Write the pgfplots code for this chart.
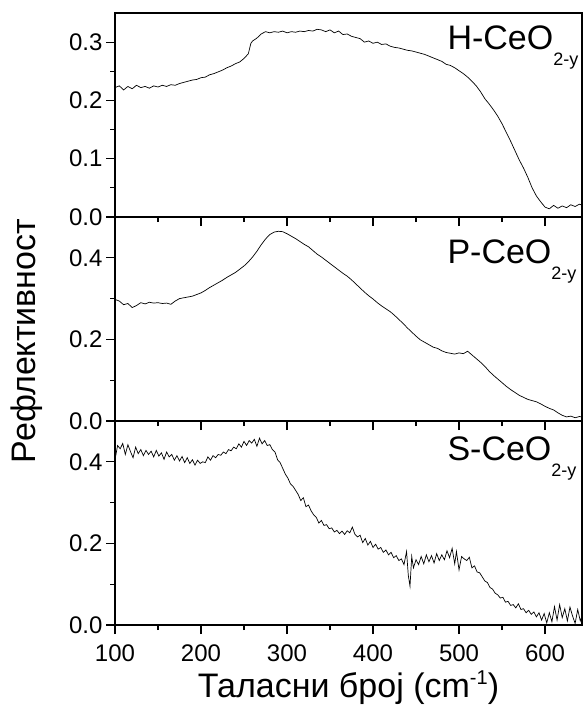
\documentclass[border=0pt]{standalone}
\usepackage{fontspec}
\setmainfont{Liberation Sans}
\usepackage{pgfplots}
\pgfplotsset{compat=1.18}
\pgfplotsset{
  panel/.style={
    width=467pt, height=204pt, scale only axis,
    xmin=100, xmax=643, ymin=0,
    xtick={100,200,...,600},
    minor x tick num=1,
    minor y tick num=1,
    tick align=outside,
    xtick pos=bottom, ytick pos=left,
    major tick length=9pt, minor tick length=5pt,
    tick label style={font=\fontsize{24}{28}\selectfont},
    /pgf/number format/assume math mode=true,
    yticklabel style={/pgf/number format/fixed, /pgf/number format/fixed zerofill,
      /pgf/number format/precision=1},
    xticklabel style={/pgf/number format/fixed, /pgf/number format/precision=0, yshift=-7pt},
    axis line style={line width=1.3pt},
    every tick/.style={line width=1.2pt, black},
  },
}
\tikzset{plab/.style={anchor=base west, font=\fontsize{34}{36}\selectfont}}
\newcommand{\sub}[1]{\raisebox{-16pt}{\fontsize{18}{18}\selectfont #1}}
\begin{document}
\begin{tikzpicture}
\begin{axis}[panel, name=top, ymax=0.35, ytick={0,0.1,0.2,0.3}, xticklabels={}]
\addplot[black, line width=0.7pt, mark=none] coordinates {
(100,0.222)(105,0.225)(110,0.218)(115,0.224)(120,0.220)(125,0.226)(130,0.222)(135,0.224)(140,0.221)(145,0.225)
(150,0.223)(155,0.226)(160,0.224)(165,0.227)(170,0.226)(175,0.229)(180,0.231)(185,0.233)(190,0.235)(195,0.236)
(200,0.239)(205,0.240)(210,0.244)(215,0.246)(220,0.249)(225,0.252)(230,0.256)(235,0.259)(240,0.263)(245,0.266)
(250,0.272)(255,0.280)(258,0.298)(260,0.302)(265,0.307)(270,0.314)(275,0.318)(280,0.316)(285,0.318)(290,0.317)
(295,0.319)(300,0.316)(305,0.318)(310,0.317)(315,0.319)(320,0.318)(325,0.320)(330,0.319)(335,0.322)(340,0.321)
(345,0.318)(350,0.321)(355,0.316)(360,0.319)(365,0.313)(370,0.314)(375,0.310)(380,0.308)(385,0.306)(390,0.300)
(395,0.302)(400,0.298)(405,0.300)(410,0.296)(415,0.297)(420,0.293)(425,0.291)(430,0.290)(435,0.288)(440,0.286)
(445,0.285)(450,0.283)(455,0.281)(460,0.279)(465,0.276)(470,0.273)(475,0.270)(480,0.267)(485,0.262)(490,0.260)
(495,0.256)(500,0.251)(505,0.246)(510,0.240)(515,0.233)(520,0.225)(525,0.215)(530,0.203)(535,0.194)(540,0.184)
(545,0.173)(550,0.160)(555,0.145)(560,0.130)(565,0.114)(570,0.098)(575,0.084)(580,0.068)(585,0.050)(590,0.036)
(595,0.026)(600,0.017)(605,0.014)(610,0.020)(615,0.015)(620,0.019)(625,0.016)(630,0.021)(635,0.018)(640,0.022)(645,0.019)
};
\node[plab, xshift=329pt, yshift=-37pt] at (rel axis cs:0,1) {H-CeO\sub{2-y}};
\end{axis}
\begin{axis}[panel, name=mid, at={(top.south west)}, anchor=north west, ymax=0.5, ytick={0,0.2,0.4}, xticklabels={}]
\addplot[black, line width=0.7pt, mark=none] coordinates {
(100,0.298)(105,0.294)(110,0.285)(115,0.288)(120,0.278)(125,0.283)(130,0.290)(135,0.287)(140,0.291)(145,0.289)
(150,0.290)(155,0.288)(160,0.289)(165,0.286)(170,0.294)(175,0.300)(180,0.302)(185,0.304)(190,0.306)(195,0.310)
(200,0.314)(205,0.320)(210,0.327)(215,0.333)(220,0.339)(225,0.345)(230,0.352)(235,0.358)(240,0.364)(245,0.372)
(250,0.380)(255,0.390)(260,0.402)(265,0.416)(270,0.432)(275,0.446)(280,0.457)(285,0.463)(290,0.465)(295,0.464)
(300,0.459)(305,0.453)(310,0.447)(315,0.440)(320,0.433)(325,0.427)(330,0.418)(335,0.409)(340,0.402)(345,0.394)
(350,0.386)(355,0.378)(360,0.370)(365,0.362)(370,0.355)(375,0.346)(380,0.336)(385,0.326)(390,0.316)(395,0.307)
(400,0.299)(405,0.290)(410,0.282)(415,0.275)(420,0.268)(425,0.259)(430,0.249)(435,0.239)(440,0.228)(445,0.218)
(450,0.208)(455,0.199)(460,0.193)(465,0.187)(470,0.181)(475,0.178)(480,0.172)(485,0.168)(490,0.166)(495,0.164)
(500,0.167)(505,0.165)(510,0.171)(515,0.162)(520,0.153)(525,0.144)(530,0.134)(535,0.122)(540,0.112)(545,0.103)
(550,0.094)(555,0.085)(560,0.077)(565,0.070)(570,0.063)(575,0.058)(580,0.053)(585,0.050)(590,0.047)(595,0.042)
(600,0.036)(605,0.031)(610,0.027)(615,0.020)(620,0.014)(625,0.010)(630,0.012)(635,0.008)(640,0.011)(645,0.009)
};
\node[plab, xshift=329pt, yshift=-46pt] at (rel axis cs:0,1) {P-CeO\sub{2-y}};
\end{axis}
\begin{axis}[panel, name=bot, at={(mid.south west)}, anchor=north west, ymax=0.5, ytick={0,0.2,0.4}]
\addplot[black, line width=0.7pt, mark=none] coordinates {
(100,0.405)(103,0.440)(106,0.432)(109,0.445)(112,0.418)(115,0.442)(118,0.425)(121,0.410)(124,0.436)(127,0.420)
(130,0.430)(133,0.415)(136,0.428)(139,0.418)(142,0.426)(145,0.412)(148,0.428)(151,0.414)(154,0.422)(157,0.406)
(160,0.424)(163,0.412)(166,0.418)(169,0.404)(172,0.415)(175,0.402)(178,0.413)(181,0.398)(184,0.410)(187,0.396)
(190,0.405)(193,0.392)(196,0.404)(199,0.396)(202,0.400)(205,0.398)(208,0.412)(211,0.404)(214,0.415)(217,0.410)
(220,0.418)(223,0.416)(226,0.424)(229,0.420)(232,0.430)(235,0.427)(238,0.436)(241,0.432)(244,0.444)(247,0.436)
(250,0.450)(253,0.440)(256,0.452)(259,0.446)(262,0.455)(265,0.438)(268,0.458)(271,0.444)(274,0.452)(277,0.440)
(280,0.442)(283,0.430)(286,0.424)(289,0.405)(292,0.398)(295,0.384)(298,0.370)(301,0.360)(304,0.346)(307,0.340)
(310,0.330)(313,0.320)(316,0.305)(319,0.312)(322,0.290)(325,0.294)(328,0.280)(331,0.270)(334,0.264)(337,0.250)
(340,0.256)(343,0.244)(346,0.246)(349,0.236)(352,0.238)(355,0.228)(358,0.232)(361,0.224)(364,0.230)(367,0.222)
(370,0.231)(373,0.226)(376,0.240)(379,0.222)(382,0.216)(385,0.220)(388,0.202)(391,0.212)(394,0.196)(397,0.205)
(400,0.190)(403,0.198)(406,0.186)(409,0.190)(412,0.178)(415,0.184)(418,0.172)(421,0.178)(424,0.165)(427,0.170)
(430,0.158)(433,0.162)(436,0.148)(439,0.180)(441,0.122)(443,0.095)(445,0.168)(447,0.140)(450,0.160)(453,0.148)
(456,0.168)(459,0.150)(462,0.172)(465,0.155)(468,0.170)(471,0.152)(474,0.175)(477,0.158)(480,0.172)(483,0.160)
(486,0.182)(489,0.165)(492,0.188)(495,0.150)(497,0.180)(500,0.135)(503,0.168)(506,0.162)(509,0.158)(512,0.166)
(515,0.140)(518,0.145)(521,0.130)(524,0.128)(527,0.118)(530,0.108)(533,0.104)(536,0.092)(539,0.088)(542,0.078)
(545,0.074)(548,0.066)(551,0.068)(554,0.056)(557,0.058)(560,0.048)(563,0.050)(566,0.042)(569,0.052)(572,0.038)
(575,0.040)(578,0.030)(581,0.036)(584,0.026)(587,0.032)(590,0.020)(593,0.030)(596,0.012)(599,0.028)(602,0.005)
(605,0.030)(608,0.008)(611,0.045)(614,0.012)(617,0.050)(620,0.018)(623,0.040)(626,0.010)(629,0.044)(632,0.022)
(635,0.004)(638,0.038)(641,0.010)(644,0.030)
};
\node[plab, xshift=329pt, yshift=-39pt] at (rel axis cs:0,1) {S-CeO\sub{2-y}};
\end{axis}
\node[rotate=90, font=\fontsize{34}{36}\selectfont] at ([xshift=-88pt, yshift=-328pt]top.north west) {Рефлективност};
\node[anchor=base, font=\fontsize{34}{36}\selectfont] at ([yshift=-72pt]bot.south) {Таласни број (cm\raisebox{13pt}{\fontsize{20}{20}\selectfont -1})};
\pgfresetboundingbox
\path[use as bounding box] ([xshift=-115pt, yshift=13pt]top.north west) rectangle ([yshift=-81pt]bot.south east);
\end{tikzpicture}
\end{document}
